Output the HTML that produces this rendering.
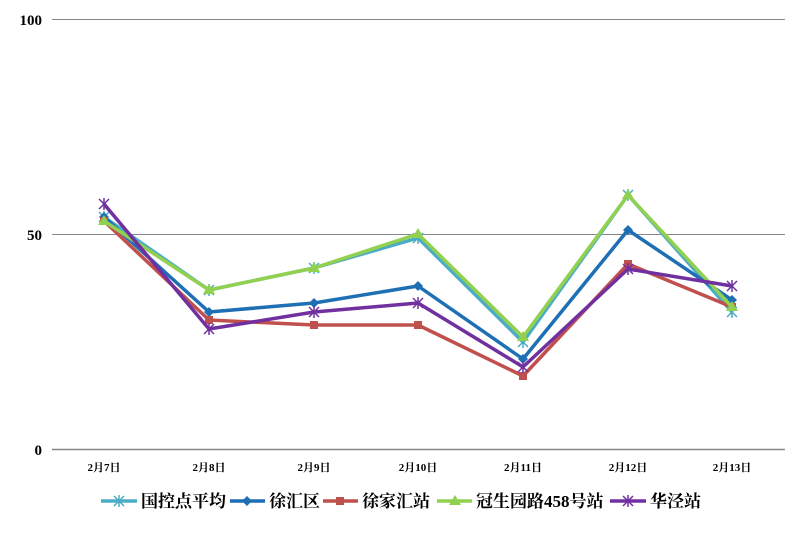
<!DOCTYPE html>
<html><head><meta charset="utf-8"><style>
html,body{margin:0;padding:0;background:#fff;}
svg text{font-family:"Liberation Serif","Noto Serif CJK SC",serif;font-weight:bold;fill:#000;}
</style></head><body>
<svg width="804" height="529" viewBox="0 0 804 529" xmlns="http://www.w3.org/2000/svg">
<defs>
<g id="star"><path d="M-5,-5L5,5M-5,5L5,-5M0,-6L0,6" stroke-width="1.5" fill="none"/></g>
</defs>
<line x1="52" y1="19.5" x2="785" y2="19.5" stroke="#888" stroke-width="1"/>
<line x1="52" y1="234.5" x2="785" y2="234.5" stroke="#888" stroke-width="1"/>
<line x1="52" y1="449.5" x2="785" y2="449.5" stroke="#888" stroke-width="1.5"/>
<text x="42" y="25" font-size="15" text-anchor="end">100</text>
<text x="42" y="240" font-size="15" text-anchor="end">50</text>
<text x="42" y="455" font-size="15" text-anchor="end">0</text>
<g font-size="11" text-anchor="middle">
<text x="104" y="471">2月7日</text><text x="209" y="471">2月8日</text><text x="314" y="471">2月9日</text><text x="418" y="471">2月10日</text><text x="523" y="471">2月11日</text><text x="628" y="471">2月12日</text><text x="732" y="471">2月13日</text>
</g>
<polyline points="104,217 209,290 314,268 418,238 523,342 628,195 732,312" fill="none" stroke="#4bacc6" stroke-width="3.5" stroke-linejoin="round"/>
<g stroke="#4bacc6"><use href="#star" x="104" y="217"/><use href="#star" x="209" y="290"/><use href="#star" x="314" y="268"/><use href="#star" x="418" y="238"/><use href="#star" x="523" y="342"/><use href="#star" x="628" y="195"/><use href="#star" x="732" y="312"/></g>
<polyline points="104,217 209,312 314,303 418,286 523,359 628,230 732,300" fill="none" stroke="#1f6fb5" stroke-width="3.5" stroke-linejoin="round"/>
<g fill="#1f6fb5"><path d="M104,212l5,5l-5,5l-5,-5z"/><path d="M209,307l5,5l-5,5l-5,-5z"/><path d="M314,298l5,5l-5,5l-5,-5z"/><path d="M418,281l5,5l-5,5l-5,-5z"/><path d="M523,354l5,5l-5,5l-5,-5z"/><path d="M628,225l5,5l-5,5l-5,-5z"/><path d="M732,295l5,5l-5,5l-5,-5z"/></g>
<polyline points="104,221 209,320 314,325 418,325 523,376 628,264 732,307" fill="none" stroke="#c0504d" stroke-width="3.5" stroke-linejoin="round"/>
<g fill="#c0504d"><rect x="100" y="217" width="8" height="8"/><rect x="205" y="316" width="8" height="8"/><rect x="310" y="321" width="8" height="8"/><rect x="414" y="321" width="8" height="8"/><rect x="519" y="372" width="8" height="8"/><rect x="624" y="260" width="8" height="8"/><rect x="728" y="303" width="8" height="8"/></g>
<polyline points="104,221 209,290 314,268 418,234 523,337 628,195 732,307" fill="none" stroke="#92d050" stroke-width="3.5" stroke-linejoin="round"/>
<g fill="#92d050"><path d="M104,215l6,10h-12z"/><path d="M209,284l6,10h-12z"/><path d="M314,262l6,10h-12z"/><path d="M418,228l6,10h-12z"/><path d="M523,331l6,10h-12z"/><path d="M628,189l6,10h-12z"/><path d="M732,301l6,10h-12z"/></g>
<polyline points="104,204 209,329 314,312 418,303 523,367 628,269 732,286" fill="none" stroke="#7030a0" stroke-width="3.5" stroke-linejoin="round"/>
<g stroke="#7030a0"><use href="#star" x="104" y="204"/><use href="#star" x="209" y="329"/><use href="#star" x="314" y="312"/><use href="#star" x="418" y="303"/><use href="#star" x="523" y="367"/><use href="#star" x="628" y="269"/><use href="#star" x="732" y="286"/></g>
<g stroke-width="3.5">
<line x1="101" y1="501" x2="137" y2="501" stroke="#4bacc6"/><use href="#star" x="119" y="501" stroke="#4bacc6"/>
<line x1="230" y1="501" x2="265" y2="501" stroke="#1f6fb5"/><path d="M247,496l5,5l-5,5l-5,-5z" fill="#1f6fb5" stroke="none"/>
<line x1="323" y1="501" x2="358" y2="501" stroke="#c0504d"/><rect x="336" y="497" width="8" height="8" fill="#c0504d" stroke="none"/>
<line x1="437" y1="501" x2="472" y2="501" stroke="#92d050"/><path d="M455,495l6,10h-12z" fill="#92d050" stroke="none"/>
<line x1="610" y1="501" x2="646" y2="501" stroke="#7030a0"/><use href="#star" x="628" y="501" stroke="#7030a0"/>
</g>
<g font-size="17">
<text x="141" y="507">国控点平均</text><text x="269" y="507">徐汇区</text><text x="362" y="507">徐家汇站</text><text x="476" y="507">冠生园路458号站</text><text x="650" y="507">华泾站</text>
</g>
</svg>
</body></html>
